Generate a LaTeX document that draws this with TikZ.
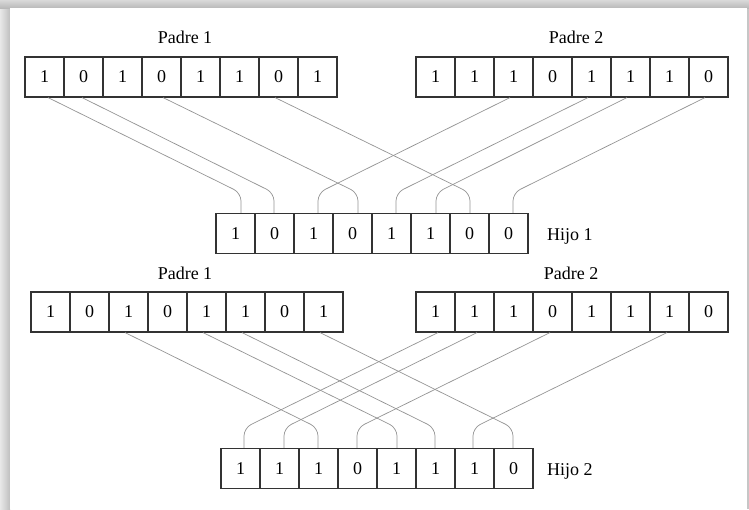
\documentclass[tikz,border=0pt]{standalone}
\usepackage{fontspec}
\setmainfont{Liberation Serif}
\newcommand\lnk[4]{\draw[conn] ([xshift=#2pt]#1.south) -- ([xshift=#4pt,yshift=20pt]#3.north) -- ([xshift=#4pt]#3.north);}
\begin{document}
\begin{tikzpicture}[x=1pt,y=-1pt,
  cell/.style={draw=black!80, line width=1.1pt, minimum width=39pt, minimum height=40pt, inner sep=0pt, font=\fontsize{18}{20}\selectfont},
  conn/.style={draw=black!42, line width=0.7pt, rounded corners=8pt},
  lbl/.style={font=\fontsize{18}{20}\selectfont, inner sep=0pt}]
\useasboundingbox (0,0) rectangle (749,509);
% page with shadow
\fill[gray!45] (0,0) rectangle (749,509);
\shade[left color=gray!18, right color=gray!50] (0,0) rectangle (10,509);
\shade[top color=gray!30, bottom color=gray!55] (0,0) rectangle (749,8);
\fill[white] (10,8) rectangle (747,509);
% arrays
\foreach \v [count=\i] in {1,0,1,0,1,1,0,1} \node[cell] (a\i) at ({44.5+39*(\i-1)},77) {\v};
\foreach \v [count=\i] in {1,1,1,0,1,1,1,0} \node[cell] (b\i) at ({435.5+39*(\i-1)},77) {\v};
\foreach \v [count=\i] in {1,0,1,0,1,1,0,0} \node[cell] (c\i) at ({235.5+39*(\i-1)},233.5) {\v};
\foreach \v [count=\i] in {1,0,1,0,1,1,0,1} \node[cell] (d\i) at ({50.5+39*(\i-1)},312) {\v};
\foreach \v [count=\i] in {1,1,1,0,1,1,1,0} \node[cell] (e\i) at ({435.5+39*(\i-1)},312) {\v};
\foreach \v [count=\i] in {1,1,1,0,1,1,1,0} \node[cell] (f\i) at ({240.5+39*(\i-1)},468.5) {\v};
% labels
\node[lbl] (pa1) at (185,37.5) {Padre 1};
\node[lbl] (pb1) at (576,37.5) {Padre 2};
\node[lbl, anchor=base west] (h1) at (547,240.5) {Hijo 1};
\node[lbl] (pa2) at (185,273.5) {Padre 1};
\node[lbl] (pb2) at (571,273.5) {Padre 2};
\node[lbl, anchor=base west] (h2) at (547,475) {Hijo 2};
% top crossover
\lnk{a1}{3.5}{c1}{5.5}
\lnk{a2}{-1.5}{c2}{-0.5}
\lnk{b3}{-3.5}{c3}{4.5}
\lnk{a4}{1.5}{c4}{5.5}
\lnk{b5}{-3.5}{c5}{4.5}
\lnk{b6}{-3.5}{c6}{5.5}
\lnk{a7}{-3.5}{c7}{0.5}
\lnk{b8}{-3.5}{c8}{4.5}
% bottom crossover
\lnk{e1}{2.5}{f1}{3.5}
\lnk{e2}{2.5}{f2}{4.5}
\lnk{d3}{-3.5}{f3}{-0.5}
\lnk{e4}{-2.5}{f4}{-0.5}
\lnk{d5}{-3.5}{f5}{0.5}
\lnk{d6}{-3.5}{f6}{-0.5}
\lnk{e7}{-2.5}{f7}{-1.5}
\lnk{d8}{-3.5}{f8}{-0.5}
\end{tikzpicture}
\end{document}
